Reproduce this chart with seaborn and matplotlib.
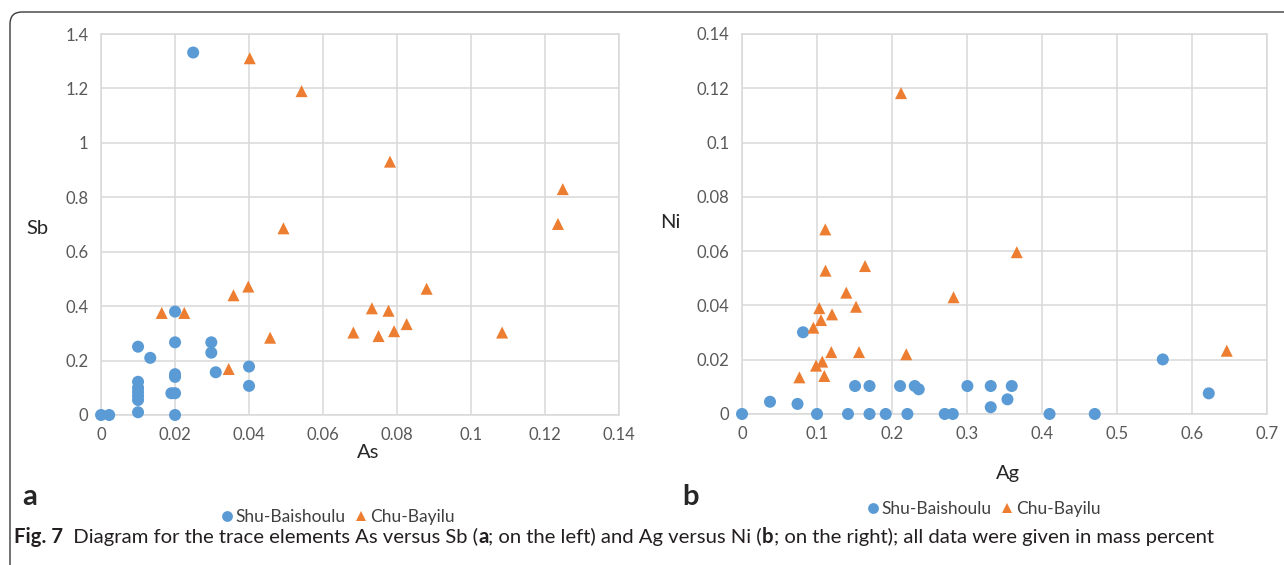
import matplotlib
matplotlib.use("Agg")
import matplotlib.pyplot as plt
import seaborn as sns
import pandas as pd
from matplotlib.patches import FancyBboxPatch
from matplotlib.ticker import FuncFormatter, MultipleLocator

# --- data (mass percent) ---
shu_as = [0, 0.0022, 0.01, 0.01, 0.01, 0.01, 0.01, 0.01, 0.01, 0.0133, 0.02, 0.02, 0.02, 0.02,
          0.019, 0.02, 0.02, 0.0249, 0.0298, 0.0298, 0.031, 0.04, 0.04]
shu_sb = [0, 0, 0.251, 0.122, 0.10, 0.085, 0.07, 0.055, 0.01, 0.21, 0.38, 0.267, 0.15, 0.14,
          0.08, 0.08, 0, 1.332, 0.267, 0.229, 0.157, 0.178, 0.107]
chu_as = [0.0164, 0.0225, 0.0402, 0.0542, 0.0493, 0.0358, 0.0398, 0.0457, 0.0345, 0.0682,
          0.0781, 0.1248, 0.1235, 0.088, 0.0732, 0.0777, 0.0826, 0.075, 0.0792, 0.1084]
chu_sb = [0.375, 0.375, 1.311, 1.19, 0.686, 0.44, 0.472, 0.284, 0.169, 0.303,
          0.931, 0.83, 0.702, 0.464, 0.392, 0.383, 0.334, 0.29, 0.308, 0.303]

shu_ag = [0, 0.0373, 0.074, 0.0813, 0.1, 0.1413, 0.1507, 0.17, 0.17, 0.1916, 0.2107, 0.2205,
          0.2303, 0.2356, 0.2703, 0.281, 0.3005, 0.3316, 0.3316, 0.3596, 0.3539, 0.41, 0.4703,
          0.561, 0.6223]
shu_ni = [0, 0.0045, 0.0037, 0.0301, 0, 0, 0.0103, 0.0103, 0, 0, 0.0103, 0,
          0.0103, 0.0091, 0, 0, 0.0103, 0.0103, 0.0025, 0.0103, 0.0054, 0, 0,
          0.0201, 0.0076]
chu_ag = [0.0765, 0.0987, 0.107, 0.1097, 0.0951, 0.103, 0.1053, 0.12, 0.119, 0.111, 0.1113,
          0.139, 0.152, 0.164, 0.156, 0.212, 0.219, 0.282, 0.3663, 0.6463]
chu_ni = [0.0135, 0.0178, 0.0193, 0.014, 0.0318, 0.039, 0.0346, 0.0367, 0.0228, 0.068, 0.0528,
          0.0447, 0.0395, 0.0545, 0.0228, 0.1182, 0.022, 0.043, 0.0596, 0.0233]

groups = ["Shu-Baishoulu", "Chu-Bayilu"]
colors = {"Shu-Baishoulu": "#5B9BD5", "Chu-Bayilu": "#ED7D31"}
markers = {"Shu-Baishoulu": "o", "Chu-Bayilu": "^"}

caption = [("Fig. 7", True), ("  Diagram for the trace elements As versus Sb (", False), ("a", True),
           ("; on the left) and Ag versus Ni (", False), ("b", True),
           ("; on the right); all data were given in mass percent", False)]

df_a = pd.DataFrame({
    "As": shu_as + chu_as,
    "Sb": shu_sb + chu_sb,
    "site": [groups[0]] * len(shu_as) + [groups[1]] * len(chu_as),
})
df_b = pd.DataFrame({
    "Ag": shu_ag + chu_ag,
    "Ni": shu_ni + chu_ni,
    "site": [groups[0]] * len(shu_ag) + [groups[1]] * len(chu_ag),
})

sns.set_theme(style="whitegrid")
plt.rcParams["font.family"] = ["Lato", "DejaVu Sans"]
GRID = "#D9D9D9"
TICK = "#595959"

fig = plt.figure(figsize=(12.84, 5.65), dpi=100)
ax_a = fig.add_axes([0.0787, 0.2655, 0.4034, 0.6743])
ax_b = fig.add_axes([0.5779, 0.2673, 0.4089, 0.6726])

fmt = FuncFormatter(lambda v, _: f"{round(v, 6):g}")


def draw(ax, df, x, y, xmax, xstep, ymax, ystep):
    sns.scatterplot(data=df, x=x, y=y, hue="site", style="site", hue_order=groups,
                    style_order=groups, palette=colors, markers=markers, s=75,
                    linewidth=0, alpha=1, ax=ax, clip_on=False, zorder=3)
    ax.set_xlim(0, xmax)
    ax.set_ylim(0, ymax)
    ax.xaxis.set_major_locator(MultipleLocator(xstep))
    ax.yaxis.set_major_locator(MultipleLocator(ystep))
    ax.xaxis.set_major_formatter(fmt)
    ax.yaxis.set_major_formatter(fmt)
    ax.grid(True, color=GRID, lw=1.1)
    for s in ax.spines.values():
        s.set_color(GRID)
        s.set_linewidth(1.1)
    ax.tick_params(axis="both", labelsize=12, colors=TICK, length=0, pad=9)
    ax.set_xlabel("")
    ax.set_ylabel("")


draw(ax_a, df_a, "As", "Sb", 0.14, 0.02, 1.4, 0.2)
draw(ax_b, df_b, "Ag", "Ni", 0.7, 0.1, 0.14, 0.02)

# axis titles and panel letters
fig.text(37 / 1284, 1 - 228 / 565, "Sb", fontsize=14.5, ha="center", va="center")
fig.text(368 / 1284, 1 - 452 / 565, "As", fontsize=14.5, ha="center", va="center")
fig.text(670 / 1284, 1 - 222 / 565, "Ni", fontsize=14.5, ha="center", va="center")
fig.text(1008 / 1284, 1 - 474 / 565, "Ag", fontsize=14.5, ha="center", va="center")
fig.text(30 / 1284, 1 - 497 / 565, "a", fontsize=21, fontweight="bold", ha="center", va="center")
fig.text(690 / 1284, 1 - 497 / 565, "b", fontsize=21, fontweight="bold", ha="center", va="center")

for ax, (cx, cy) in [(ax_a, (338, 517)), (ax_b, (984, 509))]:
    sns.move_legend(ax, "center", bbox_to_anchor=(cx / 1284, 1 - cy / 565),
                    bbox_transform=fig.transFigure, ncol=2, frameon=False, title=None,
                    fontsize=12.5, handlelength=0.6, handletextpad=0.2, columnspacing=0.6,
                    markerscale=0.9)
    for t in ax.get_legend().get_texts():
        t.set_color("#404040")

# caption, with bold pieces laid out one after another
renderer = fig.canvas.get_renderer()
x_px = 14
for piece, bold in caption:
    t = fig.text(x_px / 1284, 1 - 537 / 565, piece, fontsize=14.6, va="center", color="#231f20",
                 fontweight="bold" if bold else "normal")
    x_px += t.get_window_extent(renderer).width

# rounded frame around the figure
frame = FancyBboxPatch((0.10, -0.5), 14.0, 5.53 + 0.5, boxstyle="round,pad=0,rounding_size=0.12",
                       transform=fig.dpi_scale_trans, fill=False, ec="#3a3a3a", lw=1.0)
fig.add_artist(frame)

fig.savefig("out.png", dpi=100)
